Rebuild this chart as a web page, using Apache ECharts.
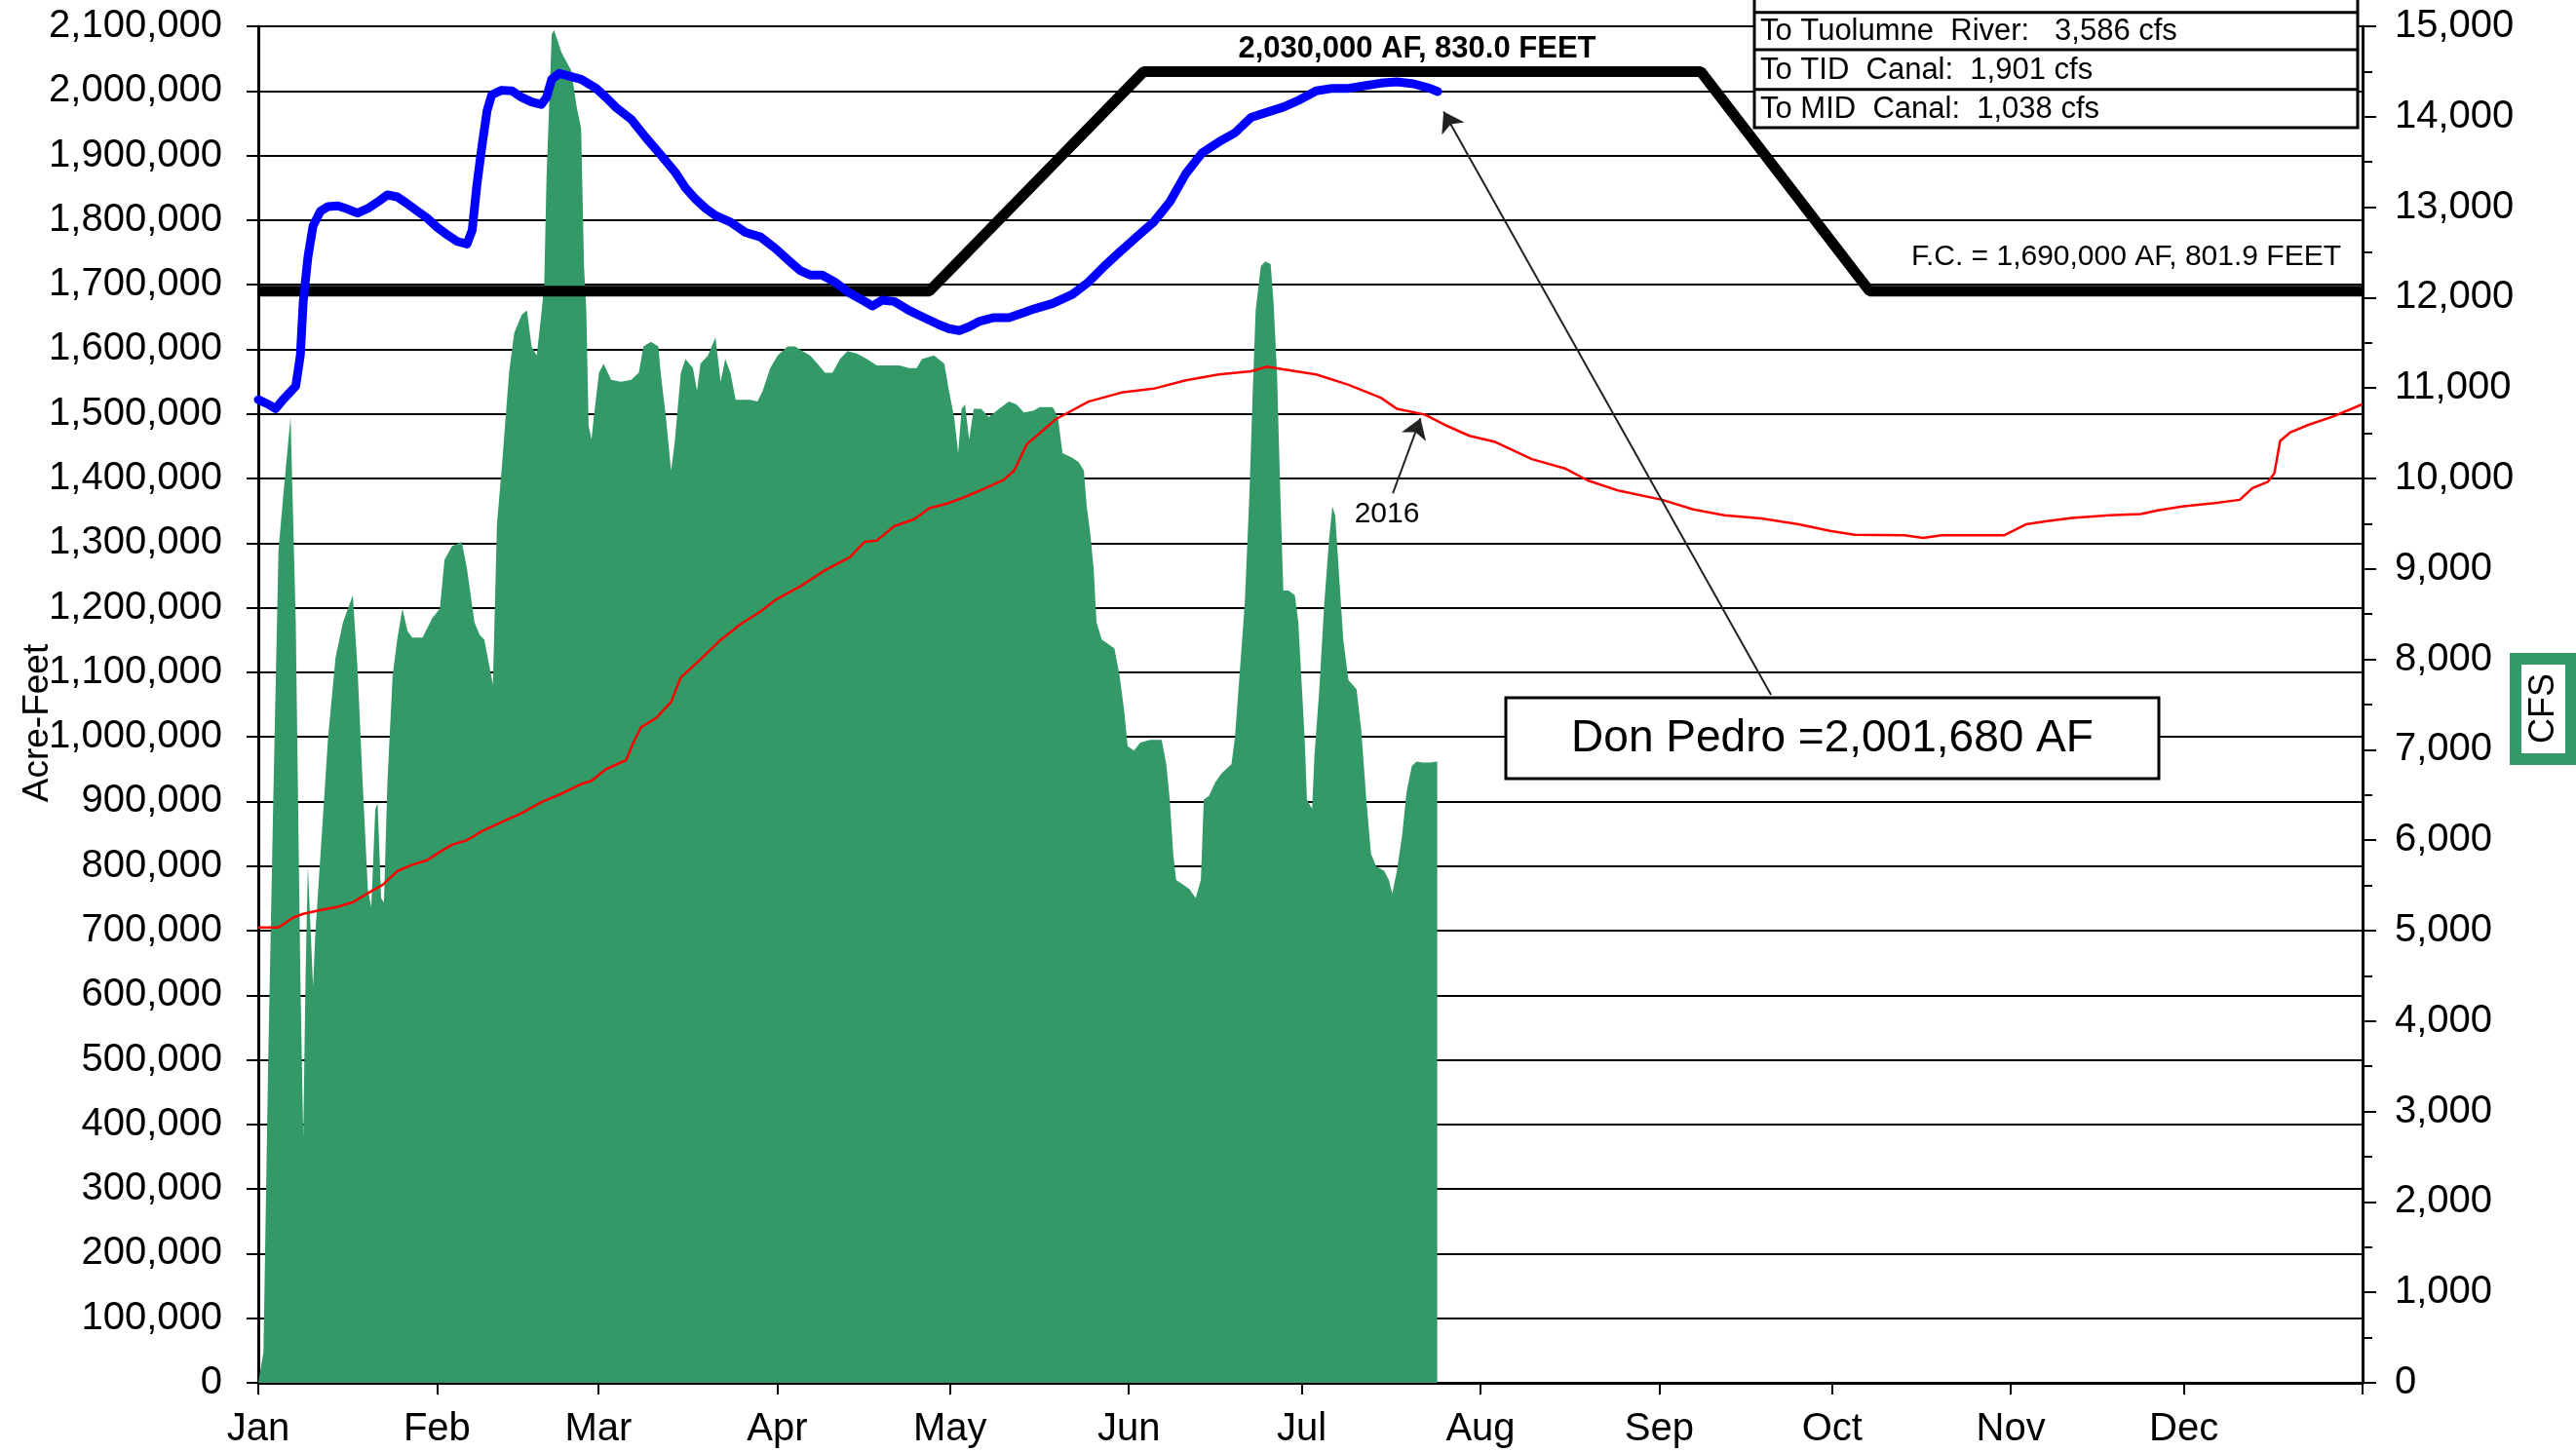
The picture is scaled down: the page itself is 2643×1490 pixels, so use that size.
<!DOCTYPE html>
<html><head><meta charset="utf-8">
<script src="https://cdn.jsdelivr.net/npm/echarts@6/dist/echarts.min.js"></script>
<style>html,body{margin:0;padding:0;background:#fff}#c{width:2643px;height:1490px}</style>
</head><body><div id="c"></div>
<script>
const FONT = '"Liberation Sans", Arial, sans-serif';

// ---- axis ticks / labels ----
const monthStartDays = [0, 31, 59, 90, 120, 151, 181, 212, 243, 273, 304, 334];
const monthLabels = ['Jan','Feb','Mar','Apr','May','Jun','Jul','Aug','Sep','Oct','Nov','Dec'];
const yearEndDay = 365;

// ---- inflow (CFS, right axis) : day of year / cfs ----
const inflowDay = [0,0.9,1.7,2.6,3.5,4.3,5.6,6.5,7.3,7.8,8.2,8.6,9.1,9.5,9.9,10.8,12.1,13.4,14.7,16.4,17.2,18.1,19,19.6,20.3,20.7,21.3,21.8,22.4,23.3,24.1,25,25.9,26.7,28.5,30.2,31.5,32.3,33.6,35.3,36.2,37.5,38.4,39.2,40.1,40.7,41.4,42.2,43.5,44.4,45.7,46.6,47.4,48.3,49,49.6,50,50.9,51.3,52.6,54.3,55.2,56,56.5,56.9,57.3,57.8,58.2,59.1,59.9,61.2,62.9,64.7,66,66.8,68.1,69.4,69.8,70.7,71.6,72.2,73.3,74.1,75.4,76.1,76.7,78,79.3,80.2,81,81.9,82.8,85.3,86.6,87.5,88.8,90.1,91.8,93.1,94.4,95.7,97,98.3,99.6,100.9,102.2,103.9,105.6,107.3,109.5,111.2,112.9,114.2,115.1,117.2,119,119.8,120.7,121.4,122,122.6,123.3,124.1,125.4,126.7,128.5,130.2,131.5,132.8,134.4,135.6,137.8,138.7,139.5,141.2,142.3,143.2,143.7,144.3,144.9,145.4,146.3,147.4,148.5,149.4,150.2,150.8,151.9,153,154.7,156.7,157.5,158.1,158.7,159.2,160.4,161.5,162.6,163.5,164,164.9,166,167.1,168.8,169.4,170.2,171.1,171.9,172.5,173,173.9,174.7,175.6,176.1,176.7,177.3,177.8,178.7,179.8,180.4,180.9,181.5,181.9,182.3,182.8,183.2,184,184.9,185.7,186.3,186.8,187.4,188.2,189.1,190.5,191.3,192.2,193,193.9,195.3,196.1,196.7,197.5,198.4,199.2,200.1,200.9,202,203.2,204.5,204.5];
const inflowCfs = [0,340,3490,6440,9200,9790,10680,8410,4480,2710,4480,5710,4970,4380,4970,5850,7130,8020,8410,8710,7920,6640,5460,5260,6350,6400,5360,5310,6640,7820,8220,8560,8310,8240,8240,8460,8560,9100,9250,9300,9000,8410,8270,8220,7920,7720,9500,10090,11170,11610,11810,11860,11460,11360,11760,12150,13330,14910,14960,14710,14510,14120,13870,12350,11860,10580,10430,10680,11170,11270,11090,11070,11090,11170,11460,11510,11460,11170,10680,10090,10380,11170,11320,11220,10970,11270,11360,11560,11070,11320,11170,10870,10870,10850,10970,11220,11360,11460,11460,11410,11360,11270,11170,11170,11320,11410,11380,11320,11250,11250,11250,11220,11220,11320,11360,11270,10970,10680,10280,10770,10820,10430,10770,10770,10680,10770,10850,10820,10730,10750,10790,10790,10680,10280,10230,10180,10090,9690,9400,9000,8410,8220,8170,8120,7820,7430,7040,6990,7080,7110,7110,6840,6450,5850,5560,5510,5460,5360,5560,6450,6490,6640,6740,6840,7130,7820,8610,9790,10970,11860,12350,12400,12370,11950,11170,9790,8760,8760,8710,8410,7820,7130,6450,6400,6350,6940,7630,8610,9300,9690,9590,9000,8220,7770,7670,7230,6450,5850,5710,5660,5560,5410,5660,6050,6540,6820,6870,6860,6860,6870,0];

// ---- Don Pedro storage this year (AF, left axis) ----
const storageDay = [0,1.7,3,4.3,6.5,7.3,7.8,8.6,9.5,10.8,12.1,13.8,15.5,17.2,19,20.7,22.4,24.1,25.9,27.6,29.3,31,32.8,34.5,36.2,37.1,37.9,38.8,39.7,40.5,42.2,44,45.7,47.4,49.1,50,50.9,52.2,54.3,56,58.6,60.3,62.1,64.7,67.2,69.8,72.4,74.1,75.9,77.6,79.3,81.9,84.5,87.1,89.7,92.2,94,95.7,97.8,100,102.6,105.2,106.5,108.2,110.3,112.9,115.5,118.1,119.8,121.6,123.3,125,127.6,130.2,132.8,134.4,137.8,141.2,144,146.8,149.7,152.5,155.3,158.1,160.9,163.7,166.6,169.4,172.2,175,177.8,180.6,183.5,186.3,189.1,191.9,194.7,197.5,200.4,203.2,204.6];
const storageAf = [1522000,1515000,1508000,1522000,1543000,1591000,1674000,1742000,1791000,1814000,1821000,1822000,1817000,1811000,1818000,1828000,1839000,1836000,1825000,1814000,1803000,1789000,1777000,1767000,1763000,1784000,1853000,1915000,1970000,1994000,2001000,2000000,1990000,1983000,1979000,1990000,2018000,2027000,2022000,2018000,2004000,1990000,1974000,1956000,1928000,1901000,1873000,1850000,1832000,1818000,1807000,1797000,1781000,1774000,1756000,1736000,1722000,1715000,1715000,1704000,1687000,1674000,1667000,1676000,1674000,1660000,1649000,1638000,1632000,1629000,1635000,1643000,1649000,1649000,1657000,1662000,1671000,1685000,1704000,1729000,1753000,1775000,1797000,1828000,1872000,1904000,1921000,1935000,1959000,1967000,1975000,1986000,2000000,2004000,2004000,2008000,2012000,2014000,2011000,2004000,1999000];

// ---- 2016 storage (AF, left axis) ----
const storage2016Day = [0,3.5,6,7.8,10.3,13.8,16.4,19,21.6,24.1,26.7,29.3,31.5,33.6,36.2,38.8,42.2,45.7,49.1,52.6,56,57.8,60.3,63.8,65.1,66.4,69,71.6,73.3,76.7,80.2,83.6,87.1,89.7,94,98.3,102.6,105.2,107.3,110.3,113.8,116.4,119.8,122.4,125.9,129.3,131.1,133.3,138.4,144,149.7,155.3,160.9,166.6,172.2,175,177.8,183.5,189.1,194.7,197.5,202.3,205.8,210.1,214.4,220.9,226.8,230.6,236,243.5,248.9,254.3,260.7,267.2,272.6,276.9,285.5,288.8,292,302.8,306.6,310.3,314.6,321.1,326.5,329.7,334,339.4,343.7,345.9,348.6,349.7,350.7,352.4,355.6,359.9,365];
const storage2016Af = [705000,705000,720000,726000,731000,737000,744000,758000,771000,792000,802000,809000,822000,833000,840000,854000,868000,882000,899000,912000,927000,932000,950000,964000,992000,1015000,1029000,1054000,1092000,1120000,1150000,1174000,1194000,1212000,1233000,1258000,1278000,1302000,1304000,1326000,1337000,1354000,1362000,1371000,1384000,1398000,1412000,1453000,1492000,1519000,1533000,1539000,1552000,1561000,1566000,1573000,1569000,1561000,1545000,1525000,1508000,1499000,1483000,1466000,1457000,1430000,1415000,1397000,1381000,1367000,1352000,1343000,1338000,1329000,1319000,1313000,1312000,1308000,1312000,1312000,1329000,1334000,1339000,1343000,1345000,1351000,1357000,1362000,1367000,1385000,1395000,1408000,1458000,1471000,1483000,1496000,1515000];

// ---- Flood control curve (AF) ----
const floodDay = [0, 116.4, 153.6, 250.2, 279.5, 365];
const floodAf = [1690000, 1690000, 2030000, 2030000, 1690000, 1690000];

// ---- annotation anchors (data space: day, AF) ----
const donPedroArrow = [[262.4, 1065000], [205.6, 1968000]];
const arrow2016 = [[196.8, 1377000], [201.6, 1493000]];

// ---- texts ----
const releaseRows = ['To Tuolumne  River:   3,586 cfs', 'To TID  Canal:  1,901 cfs', 'To MID  Canal:  1,038 cfs'];
const maxText = '2,030,000 AF, 830.0 FEET';
const fcText = 'F.C. = 1,690,000 AF, 801.9 FEET';
const donPedroText = 'Don Pedro =2,001,680 AF';

function pairs(xs, ys) { return xs.map((x, i) => [x, ys[i]]); }
const fmt = v => Number(v).toLocaleString('en-US');

const chart = echarts.init(document.getElementById('c'), null, {renderer: 'canvas'});

const tableLeft = 1800, tableRight = 2419;
const rowLines = [12.7, 51, 91.7, 131];

const graphics = [
  // release table
  {type:'rect', z:100, shape:{x:tableLeft, y:-30, width:tableRight-tableLeft, height:161}, style:{fill:'#fff', stroke:'#000', lineWidth:3}},
  ...rowLines.slice(0,3).map(y => ({type:'line', z:101, shape:{x1:tableLeft, y1:y, x2:tableRight, y2:y}, style:{stroke:'#000', lineWidth:3}})),
  ...releaseRows.map((t, i) => ({type:'text', z:102, x:tableLeft+6, y:(rowLines[i]+rowLines[i+1])/2 + 1,
      style:{text:t, font:'31px ' + FONT, fill:'#000', textAlign:'left', textVerticalAlign:'middle'}})),
  // max pool text
  {type:'text', z:100, x:1454, y:50, style:{text:maxText, font:'bold 31px ' + FONT, fill:'#000', textAlign:'center', textVerticalAlign:'middle'}},
  // flood control text
  {type:'text', z:100, x:2402, y:264, style:{text:fcText, font:'30px ' + FONT, fill:'#000', textAlign:'right', textVerticalAlign:'middle'}},
  // 2016 label
  {type:'text', z:100, x:1423, y:528, style:{text:'2016', font:'30px ' + FONT, fill:'#000', textAlign:'center', textVerticalAlign:'middle'}},
  // Don Pedro box
  {type:'rect', z:100, shape:{x:1545, y:716, width:670, height:83}, style:{fill:'#fff', stroke:'#000', lineWidth:3}},
  {type:'text', z:101, x:1880, y:758, style:{text:donPedroText, font:'46px ' + FONT, fill:'#000', textAlign:'center', textVerticalAlign:'middle'}},
  // left axis title
  {type:'text', z:100, x:39, y:742, rotation:Math.PI/2, style:{text:'Acre-Feet', font:'37px ' + FONT, fill:'#000', textAlign:'center', textVerticalAlign:'middle'}},
  // CFS box
  {type:'rect', z:100, shape:{x:2581, y:676, width:57, height:103}, style:{fill:'#fff', stroke:'#339966', lineWidth:12}},
  {type:'text', z:101, x:2610, y:727, rotation:Math.PI/2, style:{text:'CFS', font:'36px ' + FONT, fill:'#000', textAlign:'center', textVerticalAlign:'middle'}}
];

chart.setOption({
  animation: false,
  backgroundColor: '#fff',
  grid: {left: 265, right: 219, top: 27, bottom: 71, containLabel: false},
  xAxis: {
    type: 'value', min: 0, max: yearEndDay,
    axisLine: {show: true, onZero: false, lineStyle: {color: '#000', width: 3}},
    splitLine: {show: false},
    axisTick: {show: true, inside: false, length: 12, customValues: monthStartDays.concat([yearEndDay]), lineStyle: {color: '#000', width: 2}},
    axisLabel: {show: true, customValues: monthStartDays, margin: 28, fontSize: 40, fontFamily: FONT, color: '#000',
      formatter: v => monthLabels[monthStartDays.indexOf(Math.round(v))] || ''}
  },
  yAxis: [
    {
      type: 'value', position: 'left', min: 0, max: 2100000, interval: 100000,
      axisLine: {show: true, lineStyle: {color: '#000', width: 3}},
      axisTick: {show: true, length: 12, lineStyle: {color: '#000', width: 2}},
      splitLine: {show: true, lineStyle: {color: '#000', width: 2}},
      axisLabel: {margin: 37, fontSize: 40, fontFamily: FONT, color: '#000', formatter: fmt}
    },
    {
      type: 'value', position: 'right', min: 0, max: 15000, interval: 1000,
      axisLine: {show: true, lineStyle: {color: '#000', width: 3}},
      axisTick: {show: true, length: 14, lineStyle: {color: '#000', width: 2}},
      minorTick: {show: true, splitNumber: 2, length: 10, lineStyle: {color: '#000', width: 2}},
      splitLine: {show: false},
      axisLabel: {margin: 33, fontSize: 40, fontFamily: FONT, color: '#000', formatter: fmt}
    }
  ],
  series: [
    {
      name: 'Inflow', type: 'line', yAxisIndex: 1, z: 2, data: pairs(inflowDay, inflowCfs),
      symbol: 'none', lineStyle: {width: 0, color: '#339966'}, itemStyle: {color: '#339966'},
      areaStyle: {color: '#339966', opacity: 1}
    },
    {
      name: '2016', type: 'line', yAxisIndex: 0, z: 3, data: pairs(storage2016Day, storage2016Af),
      symbol: 'none', lineStyle: {width: 2.5, color: '#ff0000'}, itemStyle: {color: '#ff0000'}
    },
    {
      name: 'Flood Control', type: 'line', yAxisIndex: 0, z: 4, data: pairs(floodDay, floodAf),
      symbol: 'none', lineStyle: {width: 11, color: '#000'}, itemStyle: {color: '#000'}
    },
    {
      name: 'Storage', type: 'line', yAxisIndex: 0, z: 5, data: pairs(storageDay, storageAf),
      symbol: 'none', lineStyle: {width: 9, color: '#0000ff', join: 'round', cap: 'round'}, itemStyle: {color: '#0000ff'},
      markLine: {
        silent: true, z: 20, symbol: ['none', 'arrow'], symbolSize: 20, label: {show: false},
        lineStyle: {color: '#222', width: 2, type: 'solid'},
        itemStyle: {color: '#000'},
        data: [
          [{coord: donPedroArrow[0]}, {coord: donPedroArrow[1]}],
          [{coord: arrow2016[0]}, {coord: arrow2016[1]}]
        ]
      }
    }
  ],
  graphic: graphics
});
</script></body></html>
